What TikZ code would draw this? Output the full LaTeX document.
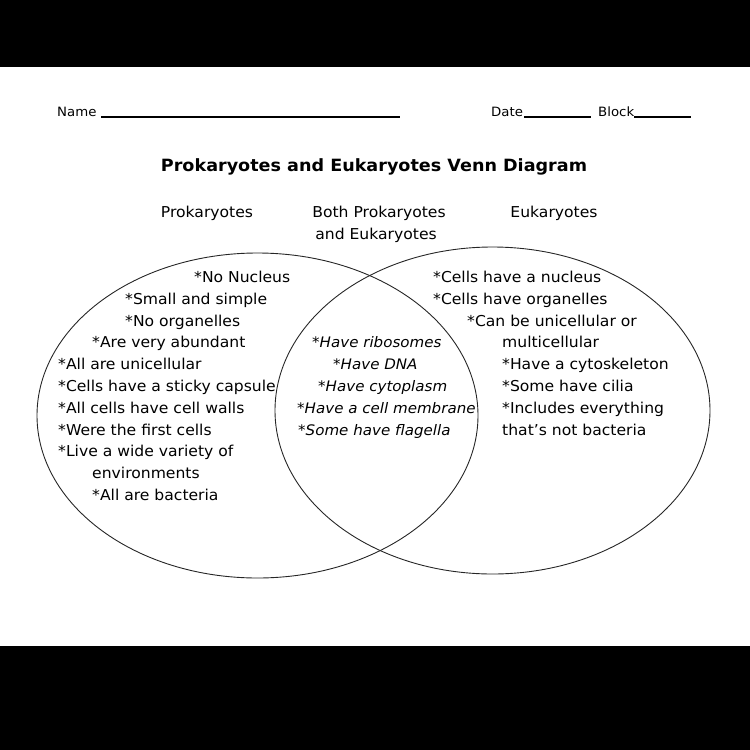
\documentclass[tikz,border=0pt]{standalone}
\usetikzlibrary{shapes.geometric}
\usepackage{fontspec}
\setmainfont{DejaVu Sans}[FakeStretch=1.04]
\begin{document}
\begin{tikzpicture}[x=1pt,y=-1pt,
  txt/.style={anchor=base west,inner sep=0pt,font=\fontsize{15}{17}\selectfont},
  itx/.style={anchor=base west,inner sep=0pt,font=\fontsize{14.5}{17}\selectfont\itshape},
  hdr/.style={anchor=base,inner sep=0pt,font=\fontsize{15}{17}\selectfont},
  ttl/.style={anchor=base,inner sep=0pt,font=\fontsize{16.9}{19}\selectfont\bfseries},
  small/.style={anchor=base west,inner sep=0pt,font=\fontsize{12.8}{15}\selectfont},
  venn/.style={draw=black!85,line width=0.9pt},
  uline/.style={draw=black,line width=1.3pt}]
\useasboundingbox (0,0) rectangle (750,750);
\fill[black] (0,0) rectangle (750,67);
\fill[black] (0,646) rectangle (750,750);
% header
\node[small] (name) at (57,116) {Name};
\coordinate (n1) at (101,117); \coordinate (n2) at (400,117);
\draw[uline] (n1) -- (n2);
\node[small] (date) at (491,116) {Date};
\coordinate (d1) at (524,117); \coordinate (d2) at (591,117);
\draw[uline] (d1) -- (d2);
\node[small] (block) at (598,116) {Block};
\coordinate (b1) at (634,117); \coordinate (b2) at (691,117);
\draw[uline] (b1) -- (b2);
\node[ttl] (title) at (374,171) {Prokaryotes and Eukaryotes Venn Diagram};
\node[hdr] (hp) at (207,217) {Prokaryotes};
\node[hdr] (hb1) at (379,217) {Both Prokaryotes};
\node[hdr] (hb2) at (376,239) {and Eukaryotes};
\node[hdr] (he) at (554,217) {Eukaryotes};
% ellipses
\node[venn,ellipse,minimum width=441pt,minimum height=325pt,inner sep=0pt] (L) at (257.5,415.5) {};
\node[venn,ellipse,minimum width=435pt,minimum height=327pt,inner sep=0pt] (R) at (492.5,410.5) {};
% left texts
\node[txt] (l1) at (194,282) {*No Nucleus};
\node[txt] (l2) at (125,304) {*Small and simple};
\node[txt] (l3) at (125,326) {*No organelles};
\node[txt] (l4) at (92,347) {*Are very abundant};
\node[txt] (l5) at (58,369) {*All are unicellular};
\node[txt] (l6) at (58,391) {*Cells have a sticky capsule};
\node[txt] (l7) at (58,413) {*All cells have cell walls};
\node[txt] (l8) at (58,435) {*Were the first cells};
\node[txt] (l9) at (58,456) {*Live a wide variety of};
\node[txt] (l10) at (92,478) {environments};
\node[txt] (l11) at (92,500) {*All are bacteria};
% middle texts
\node[itx] (m1) at (312,347) {*Have ribosomes};
\node[itx] (m2) at (333,369) {*Have DNA};
\node[itx] (m3) at (318,391) {*Have cytoplasm};
\node[itx] (m4) at (297,413) {*Have a cell membrane};
\node[itx] (m5) at (298,435) {*Some have flagella};
% right texts
\node[txt] (r1) at (433,282) {*Cells have a nucleus};
\node[txt] (r2) at (433,304) {*Cells have organelles};
\node[txt] (r3) at (467,326) {*Can be unicellular or};
\node[txt] (r4) at (502,347) {multicellular};
\node[txt] (r5) at (502,369) {*Have a cytoskeleton};
\node[txt] (r6) at (502,391) {*Some have cilia};
\node[txt] (r7) at (502,413) {*Includes everything};
\node[txt] (r8) at (502,435) {that’s not bacteria};
\end{tikzpicture}
\end{document}
